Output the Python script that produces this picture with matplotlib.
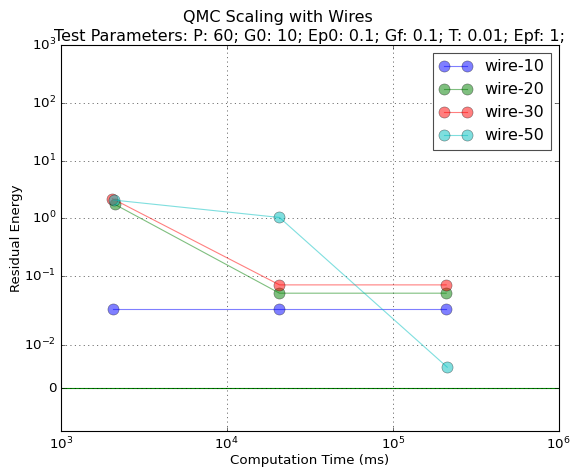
import matplotlib
matplotlib.use("Agg")
import matplotlib.pyplot as plt
from matplotlib.ticker import FixedLocator, FixedFormatter, NullLocator

plt.style.use("classic")

# ---- data ----
series_labels = ["wire-10", "wire-20", "wire-30", "wire-50"]
series_colors = ["b", "g", "r", "c"]
time_w10 = [2070, 20800, 210000]
time_w20 = [2120, 20800, 210000]
time_w30 = [2050, 20800, 210000]
time_w50 = [2090, 20800, 213000]
energy_w10 = [0.027, 0.027, 0.027]
energy_w20 = [1.75, 0.051, 0.051]
energy_w30 = [2.2, 0.071, 0.071]
energy_w50 = [2.08, 1.04, 0.0049]
baseline_energy = 0.0

y_ticks = [0, 1e-2, 1e-1, 1e0, 1e1, 1e2, 1e3]
y_tick_labels = ["0", r"$\mathdefault{10^{-2}}$", r"$\mathdefault{10^{-1}}$",
                 r"$\mathdefault{10^{0}}$", r"$\mathdefault{10^{1}}$",
                 r"$\mathdefault{10^{2}}$", r"$\mathdefault{10^{3}}$"]
x_ticks = [1e3, 1e4, 1e5, 1e6]
x_tick_labels = [r"$\mathdefault{10^{3}}$", r"$\mathdefault{10^{4}}$",
                 r"$\mathdefault{10^{5}}$", r"$\mathdefault{10^{6}}$"]

title_line1 = "QMC Scaling with Wires"
title_line2 = "Test Parameters: P: 60; G0: 10; Ep0: 0.1; Gf: 0.1; T: 0.01; Epf: 1;"

times = [time_w10, time_w20, time_w30, time_w50]
energies = [energy_w10, energy_w20, energy_w30, energy_w50]

W, H = 570, 469
fig = plt.figure(figsize=(W / 80, H / 80), dpi=80, facecolor="white")
ax = fig.add_axes([60.7 / W, 1 - 431 / H, 498 / W, 386 / H])

ax.axhline(baseline_energy, color="g", lw=1.0, zorder=1)

for t, e, lab, c in zip(times, energies, series_labels, series_colors):
    ax.plot(t, e, "-o", color=c, alpha=0.5, markersize=10, lw=1.0,
            markeredgecolor="k", markeredgewidth=0.5, label=lab, zorder=3)

ax.set_xscale("log")
ax.set_yscale("symlog", linthresh=0.015, linscale=1.0)
ax.set_xlim(1e3, 1e6)
ax.set_ylim(-0.01, 1000)

ax.xaxis.set_major_locator(FixedLocator(x_ticks))
ax.xaxis.set_major_formatter(FixedFormatter(x_tick_labels))
ax.xaxis.set_minor_locator(NullLocator())
ax.yaxis.set_major_locator(FixedLocator(y_ticks))
ax.yaxis.set_major_formatter(FixedFormatter(y_tick_labels))
ax.yaxis.set_minor_locator(NullLocator())

ax.tick_params(labelsize=12)
ax.grid(True, linestyle=":", color="k", linewidth=0.5)

ax.set_xlabel("Computation Time (ms)", fontsize=12, labelpad=2)
ax.set_ylabel("Residual Energy", fontsize=12, labelpad=1)

ax.set_title(title_line2, fontsize=14.4, pad=4)
fig.text(278 / W, 1 - 22 / H, title_line1, ha="center", va="baseline", fontsize=14.4)

leg = ax.legend(loc="upper right", numpoints=2, fontsize=14.4, fancybox=False)
leg.get_frame().set_edgecolor("0.3")

fig.savefig("out.png", dpi=80, facecolor="white")
